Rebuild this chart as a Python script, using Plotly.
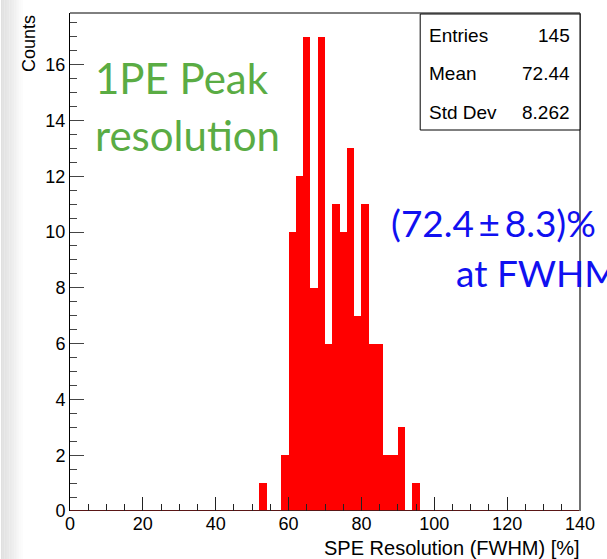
import plotly.graph_objects as go

# ---- data ----
bin_lo = [52, 58, 60, 62, 64, 66, 68, 70, 72, 74, 76, 78, 80, 82, 84, 86, 88, 90, 94]
counts = [1, 2, 10, 12, 17, 8, 17, 6, 11, 10, 13, 7, 11, 6, 6, 2, 2, 3, 1]
bin_width = 2
x_range = [0, 140]
y_range = [0, 17.85]
x_ticks = [0, 20, 40, 60, 80, 100, 120, 140]
y_ticks = [0, 2, 4, 6, 8, 10, 12, 14, 16]
stats_labels = ["Entries", "Mean", "Std Dev"]
stats_values = ["145", "72.44", "8.262"]
x_title = "SPE Resolution (FWHM) [%]"
y_title = "Counts"

W, H = 607, 559
L, R, T, B = 70, 20, 13, 48
PW, PH = W - L - R, H - T - B

def px(x):
    return (x - L) / PW

def py(y):
    return (H - B - y) / PH

fig = go.Figure()
fig.add_trace(go.Bar(
    x=bin_lo, y=counts, width=bin_width, offset=0,
    marker=dict(color="#ff0000", line=dict(width=0)),
    showlegend=False, hoverinfo="skip",
))
# histogram baseline at zero across the full range
fig.add_trace(go.Scatter(
    x=x_range, y=[0, 0], mode="lines",
    line=dict(color="#5a1616", width=2), showlegend=False, hoverinfo="skip",
))

tickfont = dict(family="Liberation Sans, Arial, sans-serif", size=18, color="black")
fig.update_layout(
    width=W, height=H,
    margin=dict(l=L, r=R, t=T, b=B),
    paper_bgcolor="white", plot_bgcolor="white",
    bargap=0,
    xaxis=dict(
        range=x_range, tickvals=x_ticks, ticks="inside", ticklen=14, tickwidth=1,
        tickcolor="#222", showgrid=False, zeroline=False, showline=False,
        tickfont=tickfont,
        minor=dict(dtick=5, tick0=0, ticks="inside", ticklen=7, tickcolor="#222", showgrid=False),
    ),
    yaxis=dict(
        range=y_range, tickvals=y_ticks, ticks="inside", ticklen=14, tickwidth=1,
        tickcolor="#444", showgrid=False, zeroline=False, showline=True,
        linecolor="black", linewidth=1, tickfont=tickfont,
        minor=dict(dtick=0.5, tick0=0, ticks="inside", ticklen=7, tickcolor="#444", showgrid=False),
    ),
)

shapes = []
# left gray gradient strip
grays = ["#e0e0e0", "#e2e2e2", "#e4e4e4", "#e6e6e6", "#e8e8e8", "#eaeaea", "#ececec",
         "#eeeeee", "#f1f1f1", "#f4f4f4", "#f7f7f7", "#fafafa", "#fcfcfc"]
for i, g in enumerate(grays):
    shapes.append(dict(type="rect", xref="paper", yref="paper",
                       x0=px(i * 1.7), x1=px((i + 1) * 1.7 + 0.2), y0=py(H), y1=py(0),
                       fillcolor=g, line=dict(width=0), layer="below"))
# frame: top black, right gray
shapes.append(dict(type="line", xref="paper", yref="paper", x0=0, x1=1, y0=1, y1=1,
                   line=dict(color="black", width=1)))
shapes.append(dict(type="line", xref="paper", yref="paper", x0=1, x1=1, y0=0, y1=1,
                   line=dict(color="#707070", width=2)))
# stats box
shapes.append(dict(type="rect", xref="paper", yref="paper",
                   x0=px(425), x1=px(587), y0=py(130), y1=py(14),
                   fillcolor="white", line=dict(color="black", width=1)))
fig.update_layout(shapes=shapes)

ann = []
statfont = dict(family="Liberation Sans, Arial, sans-serif", size=19, color="black")
for i, (lab, val) in enumerate(zip(stats_labels, stats_values)):
    yc = [35, 73, 112][i]
    ann.append(dict(text=lab, xref="paper", yref="paper", x=px(432), y=py(yc),
                    xanchor="left", yanchor="middle", showarrow=False, font=statfont))
    ann.append(dict(text=val, xref="paper", yref="paper", x=px(579), y=py(yc),
                    xanchor="right", yanchor="middle", showarrow=False, font=statfont))
# axis titles
ann.append(dict(text=y_title, xref="paper", yref="paper", x=px(28), y=py(13),
                xanchor="center", yanchor="top", textangle=-90, showarrow=False,
                font=dict(family="Liberation Sans, Arial, sans-serif", size=18, color="black")))
ann.append(dict(text=x_title, xref="paper", yref="paper", x=px(589), y=py(548),
                xanchor="right", yanchor="middle", showarrow=False,
                font=dict(family="Liberation Sans, Arial, sans-serif", size=20, color="black")))
# green label
green = dict(family="Lato, Open Sans, sans-serif", size=42, color="#5aac44")
ann.append(dict(text="1PE Peak", xref="paper", yref="paper", x=px(93), y=py(78),
                xanchor="left", yanchor="middle", showarrow=False, font=green))
ann.append(dict(text="resolution", xref="paper", yref="paper", x=px(93), y=py(135),
                xanchor="left", yanchor="middle", showarrow=False, font=green))
# blue label
blue = dict(family="Lato, Open Sans, sans-serif", size=37, color="#1010f0")
ann.append(dict(text="(72.4\u2009\u00b1\u20098.3)%", xref="paper", yref="paper", x=px(393), y=py(222),
                xanchor="left", yanchor="middle", showarrow=False, font=blue))
ann.append(dict(text="at FWHM", xref="paper", yref="paper", x=px(459), y=py(272),
                xanchor="left", yanchor="middle", showarrow=False, font=blue))
fig.update_layout(annotations=ann)

fig.write_html("out.html")
